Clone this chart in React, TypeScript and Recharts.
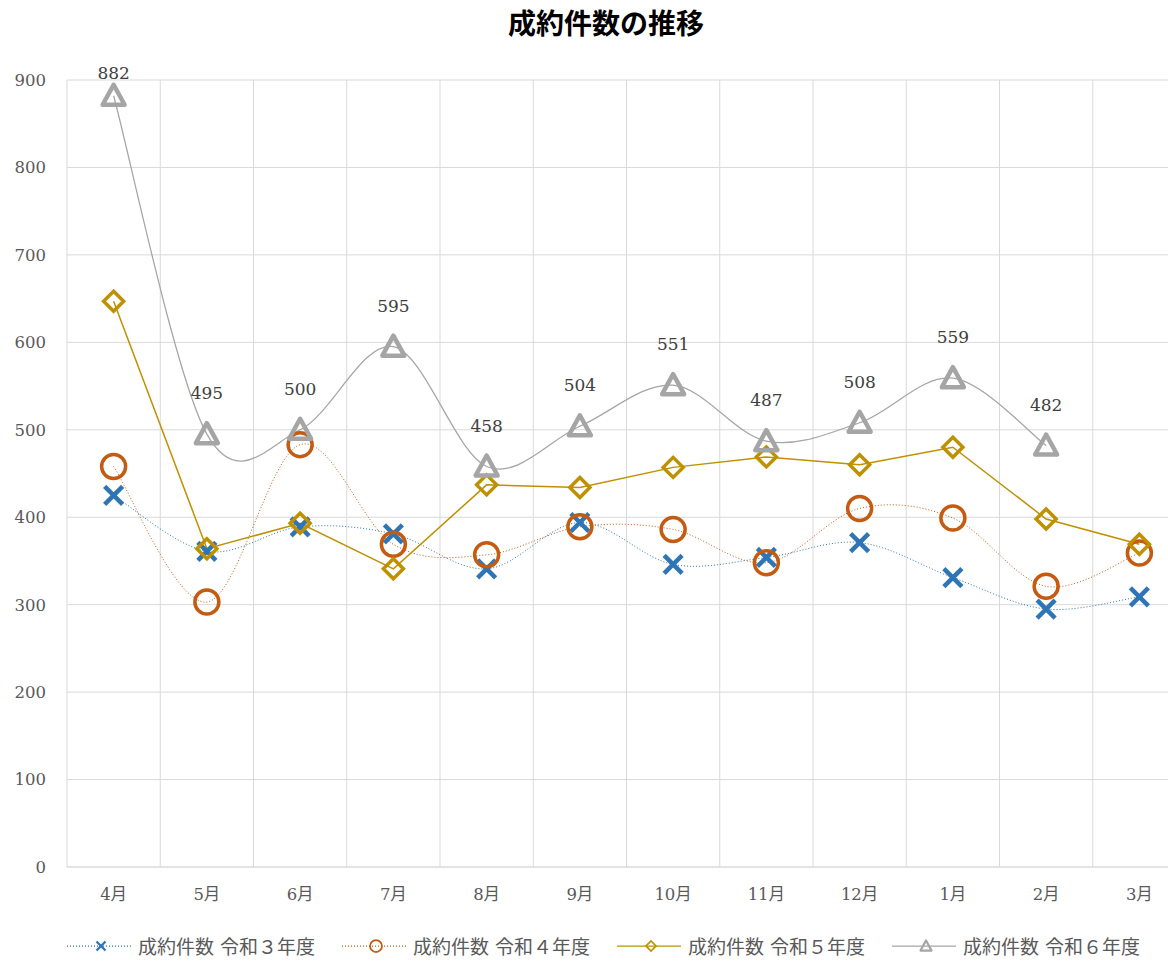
import React from "react";
import { LineChart, Line, XAxis, YAxis, CartesianGrid, LabelList } from "recharts";

const months = ["4月", "5月", "6月", "7月", "8月", "9月", "10月", "11月", "12月", "1月", "2月", "3月"];
const r3 = [425, 361, 389, 381, 341, 394, 346, 354, 371, 331, 295, 309];
const r4 = [458, 303, 483, 369, 357, 389, 386, 348, 410, 399, 321, 359];
const r5 = [647, 364, 393, 341, 437, 434, 457, 469, 460, 480, 398, 369];
const r6 = [882, 495, 500, 595, 458, 504, 551, 487, 508, 559, 482, null];
const yTicks = [0, 100, 200, 300, 400, 500, 600, 700, 800, 900];
const seriesNames = ["成約件数 令和３年度", "成約件数 令和４年度", "成約件数 令和５年度", "成約件数 令和６年度"];

const data = months.map((m, i) => ({ month: m, r3: r3[i], r4: r4[i], r5: r5[i], r6: r6[i] }));

const SERIF = '"DejaVu Serif", "Noto Sans CJK JP", serif';
const BLUE = "#2E75B6";
const ORANGE = "#C55A11";
const GOLD = "#BF9000";
const GRAY = "#A5A5A5";

const CHART_W = 1190;
const PLOT_TOP = 80;
const PLOT_LEFT = 67;
const PLOT_RIGHT_MARGIN = 4;
const BAND = (CHART_W - PLOT_LEFT - PLOT_RIGHT_MARGIN) / months.length;

// excel-like smoothing (catmull-rom through the points)
function smoothCurve(context: any) {
  let pts: number[][] = [];
  return {
    areaStart() {},
    areaEnd() {},
    lineStart() {
      pts = [];
    },
    lineEnd() {
      const n = pts.length;
      if (!n) return;
      context.moveTo(pts[0][0], pts[0][1]);
      for (let i = 0; i < n - 1; i++) {
        const p0 = pts[Math.max(0, i - 1)];
        const p1 = pts[i];
        const p2 = pts[i + 1];
        const p3 = pts[Math.min(n - 1, i + 2)];
        context.bezierCurveTo(
          p1[0] + (p2[0] - p0[0]) / 6,
          p1[1] + (p2[1] - p0[1]) / 6,
          p2[0] - (p3[0] - p1[0]) / 6,
          p2[1] - (p3[1] - p1[1]) / 6,
          p2[0],
          p2[1]
        );
      }
    },
    point(x: number, y: number) {
      pts.push([+x, +y]);
    },
  };
}

type MarkProps = { cx: number; cy: number; s?: number };

const Cross = ({ cx, cy, s = 1 }: MarkProps) => (
  <g stroke={BLUE} strokeWidth={4.5 * s}>
    <line x1={cx - 9 * s} y1={cy - 9 * s} x2={cx + 9 * s} y2={cy + 9 * s} />
    <line x1={cx - 9 * s} y1={cy + 9 * s} x2={cx + 9 * s} y2={cy - 9 * s} />
  </g>
);
const Ring = ({ cx, cy, s = 1 }: MarkProps) => (
  <circle cx={cx} cy={cy} r={12 * s} fill="none" stroke={ORANGE} strokeWidth={3.5 * s} />
);
const Diamond = ({ cx, cy, s = 1 }: MarkProps) => (
  <polygon
    points={`${cx},${cy - 10 * s} ${cx + 10 * s},${cy} ${cx},${cy + 10 * s} ${cx - 10 * s},${cy}`}
    fill="none"
    stroke={GOLD}
    strokeWidth={3.5 * s}
  />
);
const Triangle = ({ cx, cy, s = 1 }: MarkProps) => (
  <polygon
    points={`${cx},${cy - 11 * s} ${cx + 11 * s},${cy + 9 * s} ${cx - 11 * s},${cy + 9 * s}`}
    fill="none"
    stroke={GRAY}
    strokeWidth={4.5 * s}
    strokeLinejoin="round"
  />
);

const dotOf = (Mark: React.FC<MarkProps>) => (p: any) => {
  if (p.cx == null || p.cy == null || p.value == null) return <g key={`d-${p.index}`} />;
  return <Mark key={`d-${p.index}`} cx={p.cx} cy={p.cy} />;
};

// data label above the point, kept from running past the top of the plot
const TopLabel = (p: any) => {
  if (p.value == null) return null;
  const x = p.x + p.width / 2;
  const y = Math.max(p.y - 41, PLOT_TOP - 7);
  return (
    <text x={x} y={y} textAnchor="middle" dominantBaseline="central" fill="#404040" fontSize={17} fontFamily={SERIF}>
      {p.value}
    </text>
  );
};

const legendItems = [
  { name: seriesNames[0], color: BLUE, dash: "1 2", Mark: Cross },
  { name: seriesNames[1], color: ORANGE, dash: "1 2", Mark: Ring },
  { name: seriesNames[2], color: GOLD, dash: undefined, Mark: Diamond },
  { name: seriesNames[3], color: GRAY, dash: undefined, Mark: Triangle },
];

const tickStyle = { fill: "#595959", fontSize: 16.5, fontFamily: SERIF };

export default function App() {
  return (
    <div
      style={{
        position: "absolute",
        left: 0,
        top: 0,
        width: 1168,
        height: 963,
        overflow: "hidden",
        background: "#fff",
        fontFamily: SERIF,
      }}
    >
      <div
        style={{
          position: "absolute",
          left: 606,
          top: 2,
          transform: "translateX(-50%)",
          fontSize: 28,
          fontWeight: "bold",
          color: "#000",
          whiteSpace: "nowrap",
        }}
      >
        成約件数の推移
      </div>
      <LineChart
        width={CHART_W}
        height={963}
        data={data}
        margin={{ top: PLOT_TOP, right: PLOT_RIGHT_MARGIN, left: 0, bottom: 56 }}
      >
        <CartesianGrid
          stroke="#D9D9D9"
          verticalCoordinatesGenerator={({ offset }: any) => {
            const bw = offset.width / months.length;
            return months.map((_, i) => offset.left + i * bw);
          }}
        />
        <XAxis
          dataKey="month"
          axisLine={{ stroke: "#D9D9D9" }}
          tickLine={false}
          tickSize={0}
          tickMargin={21}
          height={40}
          interval={0}
          padding={{ left: BAND / 2, right: BAND / 2 }}
          tick={tickStyle}
        />
        <YAxis
          domain={[0, 900]}
          ticks={yTicks}
          axisLine={false}
          tickLine={false}
          tickSize={0}
          tickMargin={21}
          width={PLOT_LEFT}
          tick={tickStyle}
        />
        <Line
          dataKey="r3"
          type={smoothCurve as any}
          stroke={BLUE}
          strokeWidth={1}
          strokeDasharray="1 2"
          dot={dotOf(Cross)}
          activeDot={false}
          isAnimationActive={false}
        />
        <Line
          dataKey="r4"
          type={smoothCurve as any}
          stroke={ORANGE}
          strokeWidth={1}
          strokeDasharray="1 2"
          dot={dotOf(Ring)}
          activeDot={false}
          isAnimationActive={false}
        />
        <Line
          dataKey="r5"
          type="linear"
          stroke={GOLD}
          strokeWidth={1.5}
          dot={dotOf(Diamond)}
          activeDot={false}
          isAnimationActive={false}
        />
        <Line
          dataKey="r6"
          type={smoothCurve as any}
          stroke={GRAY}
          strokeWidth={1.25}
          dot={dotOf(Triangle)}
          activeDot={false}
          isAnimationActive={false}
        >
          <LabelList dataKey="r6" content={TopLabel} />
        </Line>
      </LineChart>
      <div style={{ position: "absolute", left: 67, top: 932, display: "flex", alignItems: "center" }}>
        {legendItems.map((it) => (
          <div key={it.name} style={{ width: 275, display: "flex", alignItems: "center" }}>
            <svg width={64} height={24}>
              <line x1={0} y1={12} x2={64} y2={12} stroke={it.color} strokeWidth={1.25} strokeDasharray={it.dash} />
              <it.Mark cx={34} cy={12} s={0.5} />
            </svg>
            <span
              style={{
                marginLeft: 7,
                fontSize: 19,
                color: "#595959",
                fontFamily: SERIF,
                whiteSpace: "nowrap",
              }}
            >
              {it.name}
            </span>
          </div>
        ))}
      </div>
    </div>
  );
}
